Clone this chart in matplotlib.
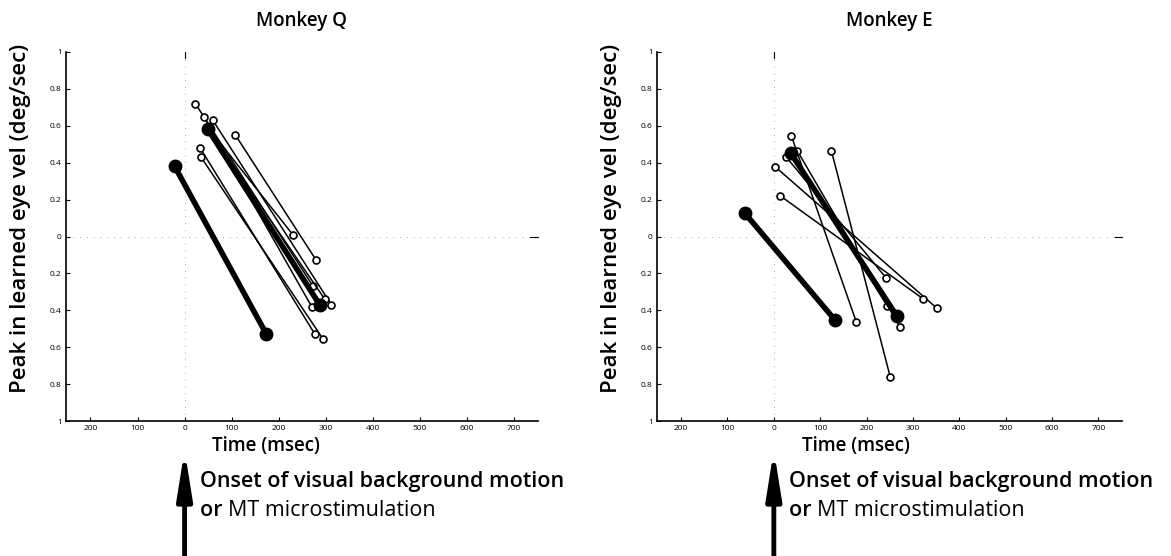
import matplotlib
matplotlib.use("Agg")
import matplotlib.pyplot as plt

plt.rcParams["font.family"] = ["Open Sans", "DejaVu Sans"]

# Monkey Q: thin lines (open circles), start -> end
q_x0 = [23, 41, 60, 108, 50, 33, 35, 48]
q_y0 = [0.72, 0.65, 0.63, 0.55, 0.59, 0.48, 0.43, 0.59]
q_x1 = [273, 270, 312, 280, 230, 277, 294, 298]
q_y1 = [-0.27, -0.38, -0.37, -0.13, 0.01, -0.53, -0.555, -0.34]
# Monkey Q: thick lines (filled circles)
q_thick_x0 = [-21, 50]
q_thick_y0 = [0.38, 0.58]
q_thick_x1 = [174, 287]
q_thick_y1 = [-0.53, -0.37]

# Monkey E
e_x0 = [124, 38, 3, 13, 27, 38, 51]
e_y0 = [0.466, 0.544, 0.378, 0.222, 0.43, 0.466, 0.463]
e_x1 = [251, 178, 351, 322, 242, 245, 272]
e_y1 = [-0.76, -0.464, -0.387, -0.338, -0.224, -0.378, -0.49]
e_thick_x0 = [-62, 37]
e_thick_y0 = [0.125, 0.45]
e_thick_x1 = [131, 265]
e_thick_y1 = [-0.45, -0.43]

xticks = [-200, -100, 0, 100, 200, 300, 400, 500, 600, 700]
xtick_labels = ["200", "100", "0", "100", "200", "300", "400", "500", "600", "700"]
yticks = [-1, -0.8, -0.6, -0.4, -0.2, 0, 0.2, 0.4, 0.6, 0.8, 1]
ytick_labels = ["1", "0.8", "0.6", "0.4", "0.2", "0", "0.2", "0.4", "0.6", "0.8", "1"]

fig = plt.figure(figsize=(11.71, 5.56), dpi=100)
W, H = 1171, 556

panels = [
    ("Monkey Q", (66, 538), (q_x0, q_y0, q_x1, q_y1),
     (q_thick_x0, q_thick_y0, q_thick_x1, q_thick_y1), 266),
    ("Monkey E", (657, 1122), (e_x0, e_y0, e_x1, e_y1),
     (e_thick_x0, e_thick_y0, e_thick_x1, e_thick_y1), 856),
]

for title, (px0, px1), thin, thick, time_x in panels:
    ax = fig.add_axes([px0 / W, 1 - 421 / H, (px1 - px0) / W, 369 / H])
    ax.set_xlim(-252, 751)
    ax.set_ylim(-1, 1)
    for s in ["top", "right"]:
        ax.spines[s].set_visible(False)
    ax.spines["left"].set_linewidth(1.2)
    ax.spines["bottom"].set_linewidth(1.2)
    ax.set_xticks(xticks)
    ax.set_xticklabels(xtick_labels)
    ax.set_yticks(yticks)
    ax.set_yticklabels(ytick_labels)
    ax.tick_params(direction="in", length=3, width=0.8, labelsize=6, pad=3)

    # dotted reference lines
    ax.axhline(0, color="#aaaaaa", lw=0.7, ls=(0, (1, 6)), zorder=0)
    ax.axvline(0, color="#aaaaaa", lw=0.7, ls=(0, (1, 6)), zorder=0)
    ax.plot([0, 0], [0.97, 1.0], color="black", lw=0.8, clip_on=False)
    ax.plot([735, 751], [0, 0], color="black", lw=0.8, clip_on=False)

    x0, y0, x1, y1 = thin
    for a, b, c, d in zip(x0, y0, x1, y1):
        ax.plot([a, c], [b, d], color="black", lw=1.1, marker="o", ms=5,
                mfc="white", mec="black", mew=1.2, zorder=3)
    x0, y0, x1, y1 = thick
    for a, b, c, d in zip(x0, y0, x1, y1):
        ax.plot([a, c], [b, d], color="black", lw=4, marker="o", ms=9,
                mfc="black", mec="black", zorder=4)

    ax.set_ylabel("Peak in learned eye vel (deg/sec)", fontsize=16,
                  fontweight="semibold")
    ax.yaxis.set_label_coords(-0.075, 0.55)

    fig.text((px0 + px1) / 2 / W, 1 - 21 / H, title, ha="center", va="center",
             fontsize=13.5, fontweight="semibold")
    fig.text(time_x / W, 1 - 446 / H, "Time (msec)", ha="center", va="center",
             fontsize=13.5, fontweight="semibold")

    # onset arrow at t = 0
    ax.annotate("", xy=(0, 1 - 450 / H), xycoords=("data", "figure fraction"),
                xytext=(0, 0.0), textcoords=("data", "figure fraction"),
                arrowprops=dict(arrowstyle="-|>,head_length=2.8,head_width=0.45",
                                lw=3.5, color="black", shrinkA=0, shrinkB=0),
                annotation_clip=False)
    x_zero = ax.transData.transform((0, 0))[0] / W
    fig.text(x_zero + 15 / W, 1 - 482 / H, "Onset of visual background motion",
             ha="left", va="center", fontsize=15.5, fontweight="semibold")
    t_or = fig.text(x_zero + 15 / W, 1 - 511 / H, "or ", ha="left", va="center",
                    fontsize=15.5, fontweight="semibold")
    ax.annotate("MT microstimulation", xy=(1, 0), xycoords=t_or, ha="left",
                va="bottom", fontsize=15.5, annotation_clip=False)

fig.savefig("out.png", dpi=100)
